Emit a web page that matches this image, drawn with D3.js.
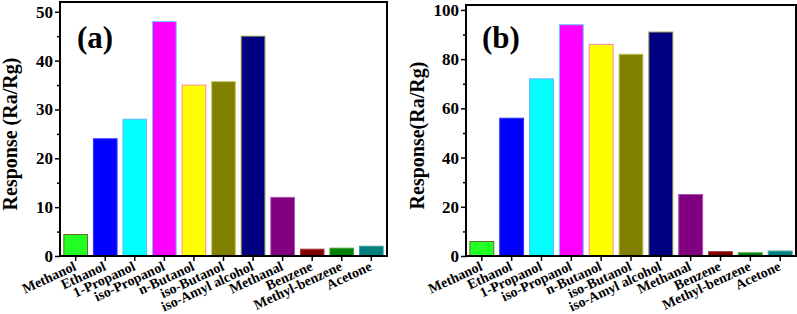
<!DOCTYPE html>
<html lang="en">
<head>
    <meta charset="UTF-8">
    <title>Gas response bar charts</title>
    <script src="https://cdn.jsdelivr.net/npm/d3@7/dist/d3.min.js"></script>
    <style>
        body { margin: 0; background: #fff; }
        text { font-family: "Liberation Serif", "Times New Roman", serif; font-weight: bold; fill: #000; }
    </style>
</head>
<body>
    <div id="app"></div>
    <script>
        var width = 797;
        var height = 314;

        // data
        var gases = ["Methanol", "Ethanol", "1-Propanol", "iso-Propanol", "n-Butanol", "iso-Butanol",
            "iso-Amyl alcohol", "Methanal", "Benzene", "Methyl-benzene", "Acetone"];
        var responseA = [4.4, 24, 28, 48, 35, 35.7, 45, 12, 1.4, 1.6, 2.0];
        var responseB = [5.9, 56, 72, 94, 86, 82, 91, 25, 1.8, 1.3, 2.0];
        var ticksA = [0, 10, 20, 30, 40, 50];
        var ticksB = [0, 20, 40, 60, 80, 100];

        var barColors = ["#22ff22", "#0000ff", "#00ffff", "#ff00ff", "#ffff00", "#808000",
            "#000080", "#800080", "#800000", "#008000", "#008080"];
        var barStrokes = ["#6b6b2a", "#3333ff", "#66b3ff", "#66ccff", "#ff88aa", "#c8c860",
            "#8c8c50", "#b050b0", "#b04040", "#40a040", "#40a0a0"];

        var svg = d3.select("#app")
            .append("svg")
            .attr("width", width)
            .attr("height", height);

        function panel(opt) {
            var g = svg.append("g");
            var x = d3.scaleBand()
                .domain(gases)
                .range([opt.left, opt.right])
                .paddingInner(0.2)
                .paddingOuter(0.13);
            var y = d3.scaleLinear()
                .domain([0, opt.max])
                .range([opt.bottom, opt.top]);

            g.selectAll("rect.bar")
                .data(opt.values)
                .enter()
                .append("rect")
                .attr("class", "bar")
                .attr("x", function (d, i) { return x(gases[i]); })
                .attr("y", function (d) { return y(d); })
                .attr("width", x.bandwidth())
                .attr("height", function (d) { return y(0) - y(d); })
                .attr("fill", function (d, i) { return barColors[i]; })
                .attr("stroke", function (d, i) { return barStrokes[i]; })
                .attr("stroke-width", 1);

            // minor ticks
            var step = opt.ticks[1] - opt.ticks[0];
            var minor = opt.ticks.map(function (t) { return t + step / 2; })
                .filter(function (t) { return t < opt.max; });
            g.append("g")
                .attr("transform", "translate(" + opt.left + ",0)")
                .call(d3.axisLeft(y).tickValues(minor).tickSize(3).tickFormat(""))
                .call(function (a) { a.select(".domain").remove(); })
                .selectAll("line").attr("stroke-width", 1.5);

            // major ticks
            var ay = g.append("g")
                .attr("transform", "translate(" + opt.left + ",0)")
                .call(d3.axisLeft(y).tickValues(opt.ticks).tickSize(5).tickPadding(2));
            ay.select(".domain").remove();
            ay.selectAll("line").attr("stroke-width", 1.5);
            ay.selectAll("text").style("font-size", "17px");

            // x axis
            var ax = g.append("g")
                .attr("transform", "translate(0," + opt.bottom + ")")
                .call(d3.axisBottom(x).tickSize(5).tickFormat(""));
            ax.select(".domain").remove();
            ax.selectAll("line").attr("stroke-width", 1.5);

            // slanted category labels
            g.selectAll("text.cat")
                .data(gases)
                .enter()
                .append("text")
                .attr("class", "cat")
                .attr("transform", function (d) {
                    return "translate(" + (x(d) + x.bandwidth() / 2 - 3) + "," + (opt.bottom + 4) + ") rotate(-25)";
                })
                .attr("text-anchor", "end")
                .attr("dy", "0.75em")
                .style("font-size", "14px")
                .text(function (d) { return d; });

            // frame
            g.append("rect")
                .attr("x", opt.left)
                .attr("y", opt.top)
                .attr("width", opt.right - opt.left)
                .attr("height", opt.bottom - opt.top)
                .attr("fill", "none")
                .attr("stroke", "#000")
                .attr("stroke-width", 2);

            g.append("text")
                .attr("x", opt.left + opt.tagDx)
                .attr("y", 48)
                .style("font-size", "31px")
                .text(opt.tag);

            g.append("text")
                .attr("transform", "translate(" + opt.titleX + "," + ((opt.top + opt.bottom) / 2 + 5) + ") rotate(-90)")
                .attr("text-anchor", "middle")
                .style("font-size", "20px")
                .text(opt.title);
        }

        panel({
            values: responseA, ticks: ticksA, max: 52,
            left: 60, right: 387, top: 2, bottom: 256,
            tag: "(a)", tagDx: 17, title: "Response (Ra/Rg)", titleX: 17
        });
        panel({
            values: responseB, ticks: ticksB, max: 102,
            left: 466, right: 796, top: 5, bottom: 256,
            tag: "(b)", tagDx: 16, title: "Response(Ra/Rg)", titleX: 424
        });
    </script>
</body>
</html>
